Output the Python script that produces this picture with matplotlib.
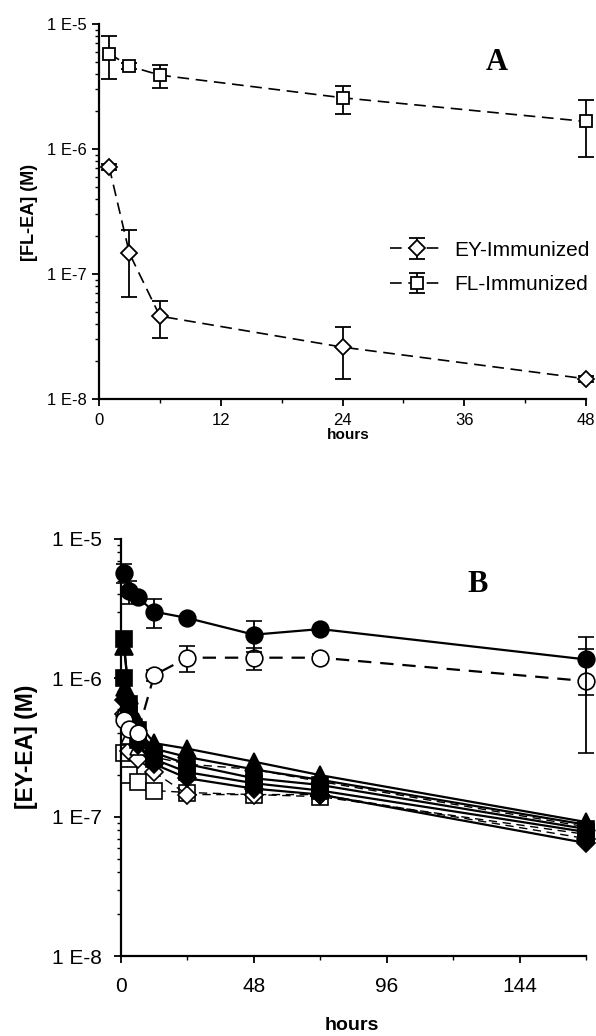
import matplotlib
matplotlib.use('Agg')
import matplotlib.pyplot as plt
import numpy as np
from matplotlib.ticker import FixedLocator, FixedFormatter, LogLocator, NullFormatter, MultipleLocator

plt.rcParams['font.family'] = ['Liberation Sans', 'DejaVu Sans']

# ---------------- Panel A data ----------------
a_hours = [1, 3, 6, 24, 48]
a_fl = [5.8e-6, 4.6e-6, 3.9e-6, 2.57e-6, 1.66e-6]
a_fl_err = [2.2e-6, 0.25e-6, 0.8e-6, 0.65e-6, 0.8e-6]
a_ey = [7.2e-7, 1.46e-7, 4.6e-8, 2.6e-8, 1.45e-8]
a_ey_err = [0.4e-7, 0.8e-7, 1.5e-8, 1.15e-8, 0.8e-9]

# ---------------- Panel B data ----------------
b_hours = [1, 3, 6, 12, 24, 48, 72, 168]
b_fill_circle = [5.7e-6, 4.2e-6, 3.8e-6, 3.0e-6, 2.7e-6, 2.05e-6, 2.25e-6, 1.36e-6]
b_fill_circle_err = [0.9e-6, 0.8e-6, 0.0, 0.7e-6, 0.0, 0.5e-6, 0.0, 0.6e-6]
b_open_circle = [5.0e-7, 4.3e-7, 4.0e-7, 1.05e-6, 1.4e-6, 1.4e-6, 1.4e-6, 9.5e-7]
b_open_circle_err = [0.0, 0.0, 0.0, 0.1e-6, 0.3e-6, 0.25e-6, 0.08e-6, 6.6e-7]
b_fill_square1 = [1.9e-6, 6.5e-7, 4.2e-7, 2.9e-7, 2.4e-7, 1.9e-7, 1.7e-7, 8.2e-8]
b_fill_tri1 = [1.7e-6, 7.5e-7, 4.8e-7, 3.4e-7, 3.1e-7, 2.5e-7, 2.0e-7, 9.2e-8]
b_fill_square2 = [1.0e-6, 5.5e-7, 3.6e-7, 2.6e-7, 2.1e-7, 1.75e-7, 1.55e-7, 7.8e-8]
b_fill_tri2 = [8.5e-7, 6.0e-7, 4.2e-7, 3.1e-7, 2.7e-7, 2.2e-7, 1.85e-7, 8.8e-8]
b_fill_diamond = [7.0e-7, 4.8e-7, 3.3e-7, 2.4e-7, 1.9e-7, 1.6e-7, 1.45e-7, 6.5e-8]
b_open_square = [2.9e-7, 2.0e-7, 1.8e-7, 1.55e-7, 1.5e-7, 1.45e-7, 1.4e-7, 7.5e-8]
b_open_diamond = [5.5e-7, 3.0e-7, 2.6e-7, 2.1e-7, 1.45e-7, 1.45e-7, 1.45e-7, 7.0e-8]
b_open_tri = [6.0e-7, 3.8e-7, 3.2e-7, 2.7e-7, 2.4e-7, 2.2e-7, 1.8e-7, 8.5e-8]

y_ticks = [1e-8, 1e-7, 1e-6, 1e-5]
y_labels = ['1 E-8', '1 E-7', '1 E-6', '1 E-5']

W, H = 596, 1036
fig = plt.figure(figsize=(W / 100, H / 100), dpi=100)


def ax_rect(l, r, t, b):
    return [l / W, 1 - b / H, (r - l) / W, (b - t) / H]


def style_axis(ax, fs, xmax, xmajor, xminor, xpad, ypad):
    ax.set_yscale('log')
    ax.set_ylim(1e-8, 1e-5)
    ax.set_xlim(0, xmax)
    ax.yaxis.set_major_locator(FixedLocator(y_ticks))
    ax.yaxis.set_major_formatter(FixedFormatter(y_labels))
    ax.yaxis.set_minor_locator(LogLocator(base=10, subs=np.arange(2, 10)))
    ax.yaxis.set_minor_formatter(NullFormatter())
    ax.xaxis.set_major_locator(MultipleLocator(xmajor))
    ax.xaxis.set_minor_locator(MultipleLocator(xminor))
    for s in ['top', 'right']:
        ax.spines[s].set_visible(False)
    for s in ['left', 'bottom']:
        ax.spines[s].set_linewidth(1.6)
    ax.tick_params(axis='both', which='major', direction='out', length=5, width=1.3,
                   labelsize=fs, color='black')
    ax.tick_params(axis='both', which='minor', direction='out', length=3, width=1.0)
    ax.tick_params(axis='x', which='major', pad=xpad)
    ax.tick_params(axis='y', which='major', pad=ypad)


# ---------------- Panel A ----------------
axA = fig.add_axes(ax_rect(99, 586, 24, 399))
style_axis(axA, 12, 48, 12, 6, 5, 4)
dashA = (0, (7, 4))
axA.errorbar(a_hours, a_ey, yerr=a_ey_err, color='black', marker='D', ms=8,
             mfc='white', mec='black', mew=1.3, linestyle=dashA, lw=1.2,
             elinewidth=1.3, capsize=6, capthick=1.3, clip_on=False, zorder=3,
             label='EY-Immunized')
axA.errorbar(a_hours, a_fl, yerr=a_fl_err, color='black', marker='s', ms=9,
             mfc='white', mec='black', mew=1.3, linestyle=dashA, lw=1.2,
             elinewidth=1.3, capsize=6, capthick=1.3, clip_on=False, zorder=3,
             label='FL-Immunized')
handles, labels = axA.get_legend_handles_labels()
axA.legend(handles, labels, loc='upper left', bbox_to_anchor=(371 / W, 1 - 222 / H),
           bbox_transform=fig.transFigure, frameon=False, fontsize=15,
           handlelength=2.6, handletextpad=0.5, labelspacing=0.75)
fig.text(497 / W, 1 - 63 / H, 'A', family=['Liberation Serif', 'DejaVu Serif'],
         fontweight='bold', fontsize=22, ha='center', va='center')
fig.text(348 / W, 1 - 435 / H, 'hours', fontweight='bold', fontsize=11,
         ha='center', va='center')
fig.text(30 / W, 1 - 212 / H, '[FL-EA] (M)', fontweight='bold', fontsize=13,
         ha='center', va='center', rotation=90)

# ---------------- Panel B ----------------
axB = fig.add_axes(ax_rect(121, 586, 539, 956))
style_axis(axB, 15, 168, 48, 24, 10, 9)
dashB = (0, (6, 4))
common = dict(color='black', mec='black', mew=1.2, clip_on=False)

# open / dashed series
axB.plot(b_hours, b_open_square, marker='s', ms=11, mfc='white', linestyle=dashB, lw=1.0, zorder=2, **common)
axB.plot(b_hours, b_open_diamond, marker='D', ms=9, mfc='white', linestyle=dashB, lw=1.0, zorder=2, **common)
axB.plot(b_hours, b_open_tri, marker='^', ms=11, mfc='white', linestyle=dashB, lw=1.0, zorder=2, **common)
# filled / solid series
axB.plot(b_hours, b_fill_diamond, marker='D', ms=9, mfc='black', linestyle='-', lw=1.6, zorder=3, **common)
axB.plot(b_hours, b_fill_square2, marker='s', ms=11, mfc='black', linestyle='-', lw=1.6, zorder=3, **common)
axB.plot(b_hours, b_fill_tri2, marker='^', ms=12, mfc='black', linestyle='-', lw=1.6, zorder=3, **common)
axB.plot(b_hours, b_fill_square1, marker='s', ms=11, mfc='black', linestyle='-', lw=1.6, zorder=3, **common)
axB.plot(b_hours, b_fill_tri1, marker='^', ms=13, mfc='black', linestyle='-', lw=1.6, zorder=3, **common)
# circles with error bars
axB.errorbar(b_hours, b_open_circle, yerr=b_open_circle_err, marker='o', ms=12, mfc='white',
             linestyle=(0, (6, 4)), lw=1.6, elinewidth=1.3, capsize=6, capthick=1.5, zorder=4, **common)
axB.errorbar(b_hours, b_fill_circle, yerr=b_fill_circle_err, marker='o', ms=12, mfc='black',
             linestyle='-', lw=1.6, elinewidth=1.3, capsize=6, capthick=1.5, zorder=5, **common)

fig.text(478 / W, 1 - 584 / H, 'B', family=['Liberation Serif', 'DejaVu Serif'],
         fontweight='bold', fontsize=22, ha='center', va='center')
fig.text(352 / W, 1 - 1025 / H, 'hours', fontweight='bold', fontsize=14,
         ha='center', va='center')
fig.text(26 / W, 1 - 747 / H, '[EY-EA] (M)', fontweight='bold', fontsize=16.5,
         ha='center', va='center', rotation=90)

fig.savefig('out.png', dpi=100)
